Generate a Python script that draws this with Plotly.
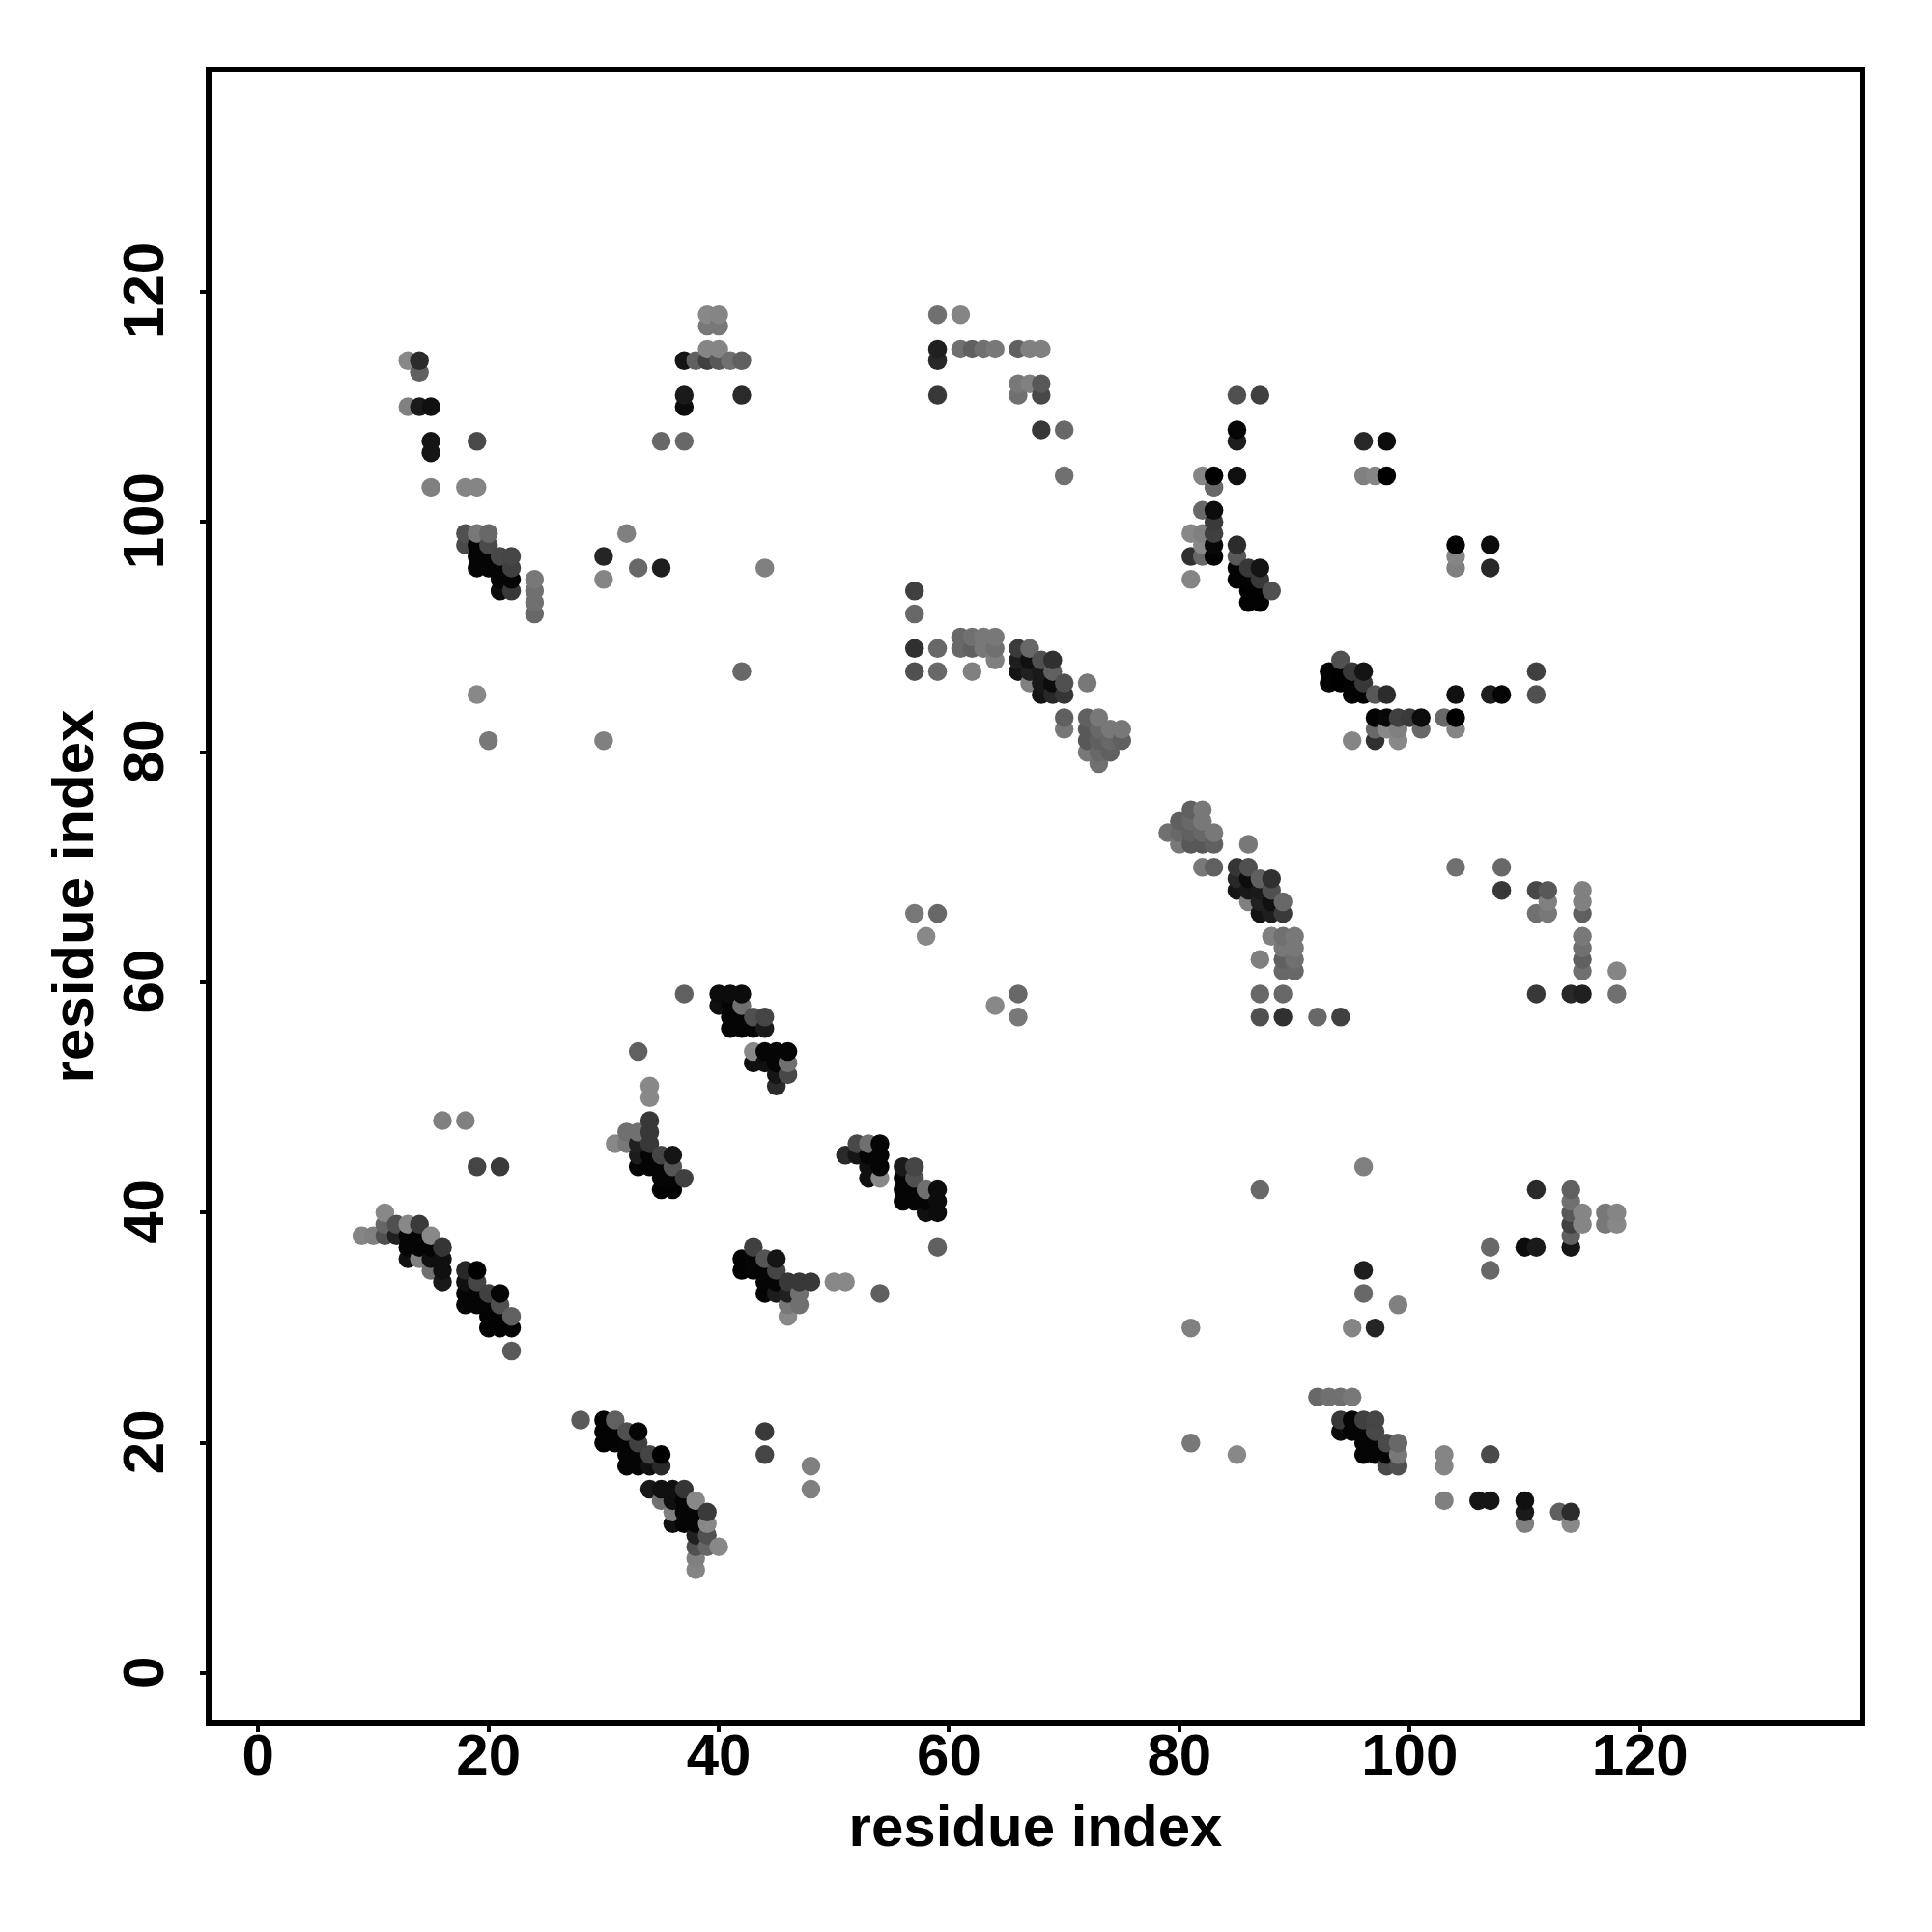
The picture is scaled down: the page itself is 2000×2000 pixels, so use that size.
import plotly.graph_objects as go

# Contact pairs above the diagonal: (residue i, residue j, grey level 0-255)
helix_a = [(9,38,0x85),(10,38,0x80),(11,38,0x50),(12,38,0x20),(13,38,0x05),(14,38,0x05),(15,38,0x88),
 (11,39,0x66),(12,39,0x50),(13,39,0x88),(14,39,0x3a),(11,40,0x88),
 (13,37,0x05),(14,37,0x05),(15,37,0x05),(16,37,0x35),
 (13,36,0x10),(14,36,0x80),(15,36,0x10),(16,36,0x10),
 (15,35,0x70),(16,35,0x10),(16,34,0x18)]
helix_b = [(18,35,0x28),(19,35,0x00),(18,34,0x10),(19,34,0x45),(18,33,0x05),(19,33,0x05),(20,33,0x40),(21,33,0x05),
 (18,32,0x05),(19,32,0x05),(20,32,0x05),(21,32,0x50),(20,31,0x03),(21,31,0x03),(22,31,0x60),
 (20,30,0x03),(21,30,0x03),(22,30,0x03),(22,28,0x5a),(19,44,0x45),(21,44,0x3a),(16,48,0x80),(18,48,0x80)]
sheet_c = [(37,59,0x60),(40,59,0x0c),(41,59,0x0c),(42,59,0x0c),(40,58,0x10),(41,58,0x05),(42,58,0x70),
 (41,57,0x05),(42,57,0x05),(43,57,0x50),(44,57,0x45),(41,56,0x05),(42,56,0x05),(43,56,0x05),(44,56,0x1a),
 (43,54,0x88),(44,54,0x05),(45,54,0x05),(46,54,0x05),(43,53,0x10),(44,53,0x10),(45,53,0x05),(46,53,0x70),
 (45,52,0x15),(46,52,0x48),(45,51,0x2a)]
sheet_d = [(33,54,0x60),(34,51,0x88),(34,50,0x88),(34,48,0x38),(32,47,0x70),(33,47,0x70),(34,47,0x38),
 (31,46,0x88),(32,46,0x78),(33,46,0x20),(34,46,0x38),(33,45,0x1c),(34,45,0x05),(35,45,0x45),(36,45,0x15),
 (33,44,0x05),(34,44,0x05),(35,44,0x05),(36,44,0x55),(35,43,0x05),(36,43,0x05),(37,43,0x40),(35,42,0x03),(36,42,0x03)]
far_e = [(13,114,0x88),(14,114,0x2c),(14,113,0x60),(13,110,0x80),(14,110,0x1a),(15,110,0x10),(15,107,0x15),(15,106,0x15),
 (19,107,0x4a),(15,103,0x80),(18,103,0x85),(19,103,0x85),
 (37,114,0x15),(38,114,0x60),(39,114,0x40),(40,114,0x58),(41,114,0x70),(42,114,0x60),(39,115,0x85),(40,115,0x85),
 (39,118,0x88),(40,118,0x85),(39,117,0x78),(40,117,0x78),(37,111,0x1a),(37,110,0x0c),(42,111,0x2a),(35,107,0x68),(37,107,0x68)]
far_f = [(18,99,0x50),(19,99,0x78),(20,99,0x68),(18,98,0x4a),(19,98,0x05),(20,98,0x4a),(19,97,0x05),(20,97,0x05),
 (21,97,0x48),(22,97,0x45),(19,96,0x05),(20,96,0x05),(21,96,0x05),(22,96,0x40),(21,95,0x05),(22,95,0x05),(21,94,0x0c),(22,94,0x38),
 (24,95,0x78),(24,94,0x70),(24,93,0x70),(24,92,0x68),
 (32,99,0x80),(30,97,0x25),(33,96,0x68),(35,96,0x1e),(44,96,0x80),(30,95,0x85),(42,87,0x68),(19,85,0x88),(20,81,0x78),(30,81,0x80)]
mid_g = [(57,94,0x40),(57,92,0x68),(57,89,0x30),(59,89,0x68),(57,87,0x50),(59,87,0x68),(62,87,0x80),
 (61,90,0x68),(62,90,0x70),(63,90,0x78),(64,90,0x78),(61,89,0x68),(62,89,0x60),(63,89,0x78),(64,89,0x70),(64,88,0x80),
 (66,89,0x3a),(67,89,0x68),(66,88,0x1e),(67,88,0x10),(68,88,0x50),(69,88,0x30),(66,87,0x14),(67,87,0x20),(68,87,0x1a),(69,87,0x60),
 (67,86,0x80),(68,86,0x18),(69,86,0x0c),(70,86,0x50),(68,85,0x14),(69,85,0x28),(70,85,0x35),(72,86,0x78)]
mid_h = [(70,83,0x60),(70,82,0x78),(72,83,0x60),(73,83,0x78),(72,82,0x58),(73,82,0x68),(74,82,0x78),(75,82,0x78),
 (72,81,0x58),(73,81,0x60),(74,81,0x68),(75,81,0x60),(72,80,0x78),(73,80,0x68),(74,80,0x60),(73,79,0x70),
 (57,66,0x78),(59,66,0x68),(58,64,0x88)]
top_i = [(59,118,0x70),(61,118,0x85),(59,115,0x20),(59,114,0x28),(61,115,0x70),(62,115,0x60),(63,115,0x70),(64,115,0x78),
 (66,115,0x60),(67,115,0x80),(68,115,0x80),(59,111,0x38),(66,112,0x78),(67,112,0x80),(68,112,0x58),(66,111,0x70),(68,111,0x48),
 (68,108,0x38),(70,108,0x68),(70,104,0x70)]
top_j = [(85,111,0x50),(87,111,0x40),(85,108,0x05),(85,107,0x1e),(96,107,0x28),(98,107,0x0c),(82,104,0x85),(83,104,0x00),(85,104,0x10),
 (96,104,0x80),(97,104,0x85),(98,104,0x00),(83,103,0x68),(82,101,0x68),(83,101,0x0c),(83,100,0x3a),(81,99,0x88),(82,99,0x80),(83,99,0x40),
 (82,98,0x88),(83,98,0x08),(85,98,0x2c),(81,97,0x30),(82,97,0x68),(83,97,0x03),(85,97,0x58),(85,96,0x03),(86,96,0x38),(87,96,0x14),
 (81,95,0x85),(85,95,0x03),(86,95,0x03),(87,95,0x38),(88,94,0x50),(86,94,0x00),(87,94,0x00),(86,93,0x03),(87,93,0x03)]
tick_values = [0, 20, 40, 60, 80, 100, 120]
axis_label = "residue index"

# The contact map is symmetric: each pair is also drawn mirrored, in residue order.
groups = [helix_a, helix_b, sheet_c, sheet_d, far_e, far_f, mid_g, mid_h, top_i, top_j]
seen = {}
for g in groups:
    for i, j, s in g:
        seen[(i, j)] = s
        seen[(j, i)] = s
ordered = sorted(seen.items())
xs = [k[0] for k, _ in ordered]
ys = [k[1] for k, _ in ordered]
colors = [f"rgb({s},{s},{s})" for _, s in ordered]

fig = go.Figure(go.Scatter(x=xs, y=ys, mode="markers", showlegend=False,
    marker=dict(size=19.5, color=colors, line=dict(width=0), opacity=1)))

FONT = "Liberation Sans"
tick_font = dict(family=FONT, size=60, color="black", weight="bold")
title_font = dict(family=FONT, size=60, color="black", weight="bold")
axis = dict(showgrid=False, zeroline=False, showline=True, mirror=True, linecolor="black", linewidth=5.5,
            ticks="outside", ticklen=6, tickwidth=4, tickcolor="black",
            tickvals=tick_values, ticktext=[str(v) for v in tick_values],
            tickfont=tick_font)
fig.update_layout(
    width=2000, height=2000, autosize=False, paper_bgcolor="white", plot_bgcolor="white",
    margin=dict(l=219, r=75, t=75, b=219),
    xaxis=dict(axis, range=[-4.05, 139.07], ticklabelstandoff=-28,
               title=dict(text=axis_label, standoff=22, font=title_font)),
    yaxis=dict(axis, range=[-4.09, 139.03], tickangle=-90, ticklabelstandoff=14, ticklabelshift=8,
               title=dict(text=axis_label, standoff=1, font=title_font)),
)
fig.write_html("out.html", config={"displayModeBar": False},
               post_script="document.body.style.margin='0';document.body.style.overflow='hidden';")
